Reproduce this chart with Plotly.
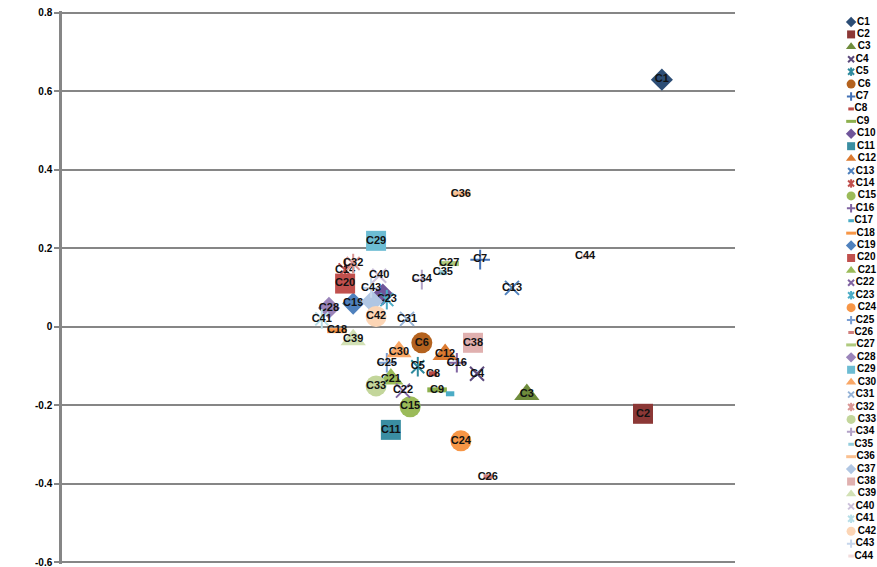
import plotly.graph_objects as go

# ---- data ----
names = ["C1", "C2", "C3", "C4", "C5", "C6", "C7", "C8", "C9", "C10",
         "C11", "C12", "C13", "C14", "C15", "C16", "C17", "C18", "C19", "C20",
         "C21", "C22", "C23", "C24", "C25", "C26", "C27", "C28", "C29", "C30",
         "C31", "C32", "C33", "C34", "C35", "C36", "C37", "C38", "C39", "C40",
         "C41", "C42", "C43", "C44"]
x_vals = [0.837, 0.795, 0.536, 0.425, 0.293, 0.302, 0.432, 0.327, 0.336, 0.215,
          0.233, 0.354, 0.503, 0.131, 0.276, 0.380, 0.365, 0.113, 0.149, 0.131,
          0.233, 0.260, 0.224, 0.389, 0.224, 0.449, 0.363, 0.095, 0.200, 0.251,
          0.269, 0.149, 0.200, 0.302, 0.349, 0.389, 0.191, 0.416, 0.149, 0.207,
          0.079, 0.200, 0.189, 0.666]
y_vals = [0.630, -0.222, -0.173, -0.120, -0.102, -0.041, 0.171, -0.120, -0.161, 0.082,
          -0.263, -0.071, 0.099, 0.145, -0.204, -0.092, -0.171, -0.010, 0.059, 0.110,
          -0.133, -0.163, 0.069, -0.291, -0.092, -0.383, 0.161, 0.048, 0.219, -0.064,
          0.020, 0.161, -0.151, 0.120, 0.138, 0.339, 0.064, -0.041, -0.033, 0.130,
          0.020, 0.026, 0.099, 0.179]
y_ticks = [-0.6, -0.4, -0.2, 0, 0.2, 0.4, 0.6, 0.8]
y_ticktext = ["-0.6", "-0.4", "-0.2", "0", "0.2", "0.4", "0.6", "0.8"]
# data labels not shown on the chart
hidden_labels = ["C10", "C17", "C37"]

# ---- styles ----
colors = ["#2C4D75", "#8C3836", "#6F8C3C", "#5C4A7D", "#2F8A9E", "#B4621E",
          "#4472B6", "#BB4A47", "#8DB04E", "#6F559A", "#3A8EA2", "#DB7A30",
          "#4F81BD", "#C0504D", "#9BBB59", "#8064A2", "#4BACC6", "#F79646",
          "#4F81BD", "#C0504D", "#9BBB59", "#8064A2", "#4BACC6", "#F79646",
          "#7B9FD3", "#D2807D", "#AFCA7E", "#9A84BA", "#6CBCD3", "#F9A766",
          "#95B3D7", "#D99694", "#C3D69B", "#B3A2C7", "#93CDDD", "#FAC090",
          "#B0C6E3", "#E0B0AF", "#D2E1B5", "#CCC1DA", "#B7DEE8", "#FCD5B5",
          "#C6D6EC", "#F2DCDB"]
shape_cycle = ["diamond", "square", "triangle", "x", "star", "circle", "plus", "dash", "longdash"]
# (symbol, size, line width) for the plot and for the legend
main_style = {
    "diamond": ("diamond", 17, 0), "square": ("square", 20, 0),
    "triangle": ("triangle-up", 22, 0), "x": ("x-thin-open", 14, 2),
    "star": ("x-thin-open", 13, 2), "circle": ("circle", 21, 0),
    "plus": ("cross-thin-open", 14, 2), "dash": ("line-ew-open", 6, 5),
    "longdash": ("line-ew-open", 14, 5),
}
leg_style = {
    "diamond": ("diamond", 8, 0), "square": ("square", 8, 0),
    "triangle": ("triangle-up", 9, 0), "x": ("x-thin-open", 6, 2),
    "star": ("x-thin-open", 6, 2), "circle": ("circle", 9, 0),
    "plus": ("cross-thin-open", 6, 2), "dash": ("line-ew-open", 4, 3),
    "longdash": ("line-ew-open", 7, 3),
}

label_font = dict(family="Liberation Sans Narrow, Liberation Sans, Arial", size=11,
                  color="#111111", weight="bold")
legend_font = dict(family="Liberation Sans Narrow, Liberation Sans, Arial", size=10,
                   color="#000000", weight="bold")

fig = go.Figure()

for i, name in enumerate(names):
    kind = shape_cycle[i % len(shape_cycle)]
    c = colors[i]
    sym, sz, lw = main_style[kind]
    if kind == "star":
        fig.add_trace(go.Scatter(
            x=[x_vals[i]], y=[y_vals[i]], mode="markers",
            marker=dict(symbol="line-ns-open", size=14, color=c, line=dict(width=2, color=c)),
            hoverinfo="skip", showlegend=False, xaxis="x", yaxis="y"))
    label = "" if name in hidden_labels else name
    fig.add_trace(go.Scatter(
        x=[x_vals[i]], y=[y_vals[i]], mode="markers+text", text=[label],
        textposition="middle center", textfont=label_font,
        marker=dict(symbol=sym, size=sz, color=c, line=dict(width=lw, color=c)),
        name=name, showlegend=False, xaxis="x", yaxis="y"))

# manual legend on a secondary axis
for i, name in enumerate(names):
    kind = shape_cycle[i % len(shape_cycle)]
    c = colors[i]
    sym, sz, lw = leg_style[kind]
    if kind == "star":
        fig.add_trace(go.Scatter(
            x=[0.3], y=[i], mode="markers",
            marker=dict(symbol="line-ns-open", size=6, color=c, line=dict(width=2, color=c)),
            hoverinfo="skip", showlegend=False, xaxis="x2", yaxis="y2"))
    fig.add_trace(go.Scatter(
        x=[0.3], y=[i], mode="markers+text", text=[name],
        textposition="middle right", textfont=legend_font,
        marker=dict(symbol=sym, size=sz, color=c, line=dict(width=lw, color=c)),
        hoverinfo="skip", showlegend=False, xaxis="x2", yaxis="y2", cliponaxis=False))

grid_c = "#868686"
fig.update_layout(
    width=877, height=567,
    margin=dict(l=62, r=0, t=11, b=3),
    paper_bgcolor="white", plot_bgcolor="white",
    showlegend=False,
    xaxis=dict(domain=[0, 673 / 815], range=[-0.5, 1.0], showgrid=False, zeroline=False,
               showline=False, showticklabels=False, ticks=""),
    yaxis=dict(range=[-0.605, 0.805], tickvals=y_ticks, ticktext=y_ticktext,
               showgrid=True, gridcolor=grid_c, gridwidth=2, zeroline=False,
               showline=True, linecolor=grid_c, linewidth=2.5,
               ticks="outside", ticklen=5, tickcolor=grid_c, tickwidth=1.5,
               ticklabeloverflow="allow",
               tickfont=dict(family="Liberation Sans, Arial", size=10, color="#000000", weight="bold")),
    xaxis2=dict(domain=[(840 - 62) / 815, 1], range=[0, 1], visible=False, fixedrange=True),
    yaxis2=dict(domain=[0, 1], range=[43.64, -0.886], visible=False, anchor="x2", fixedrange=True),
)

fig.write_html("out.html", config={"displayModeBar": False},
               post_script="document.body.style.margin='0';document.body.style.overflow='hidden';")
